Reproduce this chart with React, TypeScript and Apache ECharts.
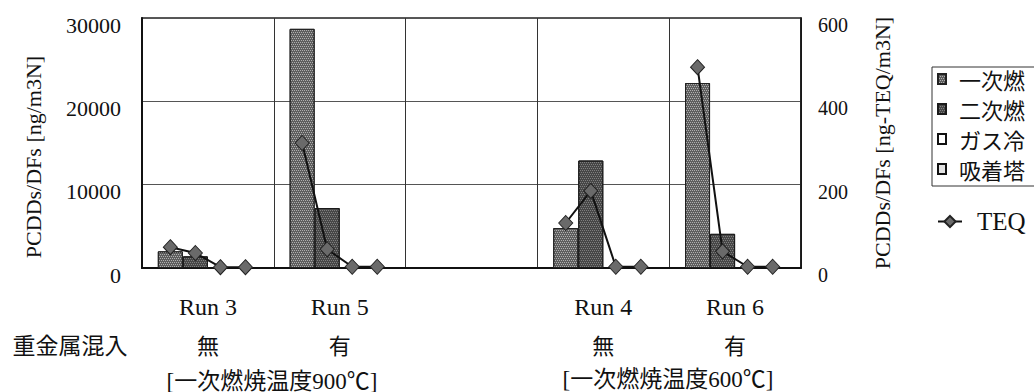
import React, { useEffect, useRef } from "react";
import * as echarts from "echarts";

// Runs on the category axis (the blank slot separates the 900℃ and 600℃ groups)
const runs = ["Run 3", "Run 5", "", "Run 4", "Run 6"];
const metalMixing = ["無", "有", "", "無", "有"];

// PCDDs/DFs concentration [ng/m3N] at each sampling point
const primaryOutlet = [2000, 28700, null, 4800, 22200]; // 一次燃
const secondaryOutlet = [1400, 7200, null, 12900, 4100]; // 二次燃
const gasCooler = [30, 20, null, 20, 20]; // ガス冷
const adsorber = [15, 10, null, 10, 10]; // 吸着塔

// TEQ [ng-TEQ/m3N] at the same four points of each run
const teqRun3 = [50, 36, 2, 2];
const teqRun5 = [300, 45, 3, 3];
const teqRun4 = [108, 185, 3, 3];
const teqRun6 = [482, 40, 3, 3];
const teqByRun: (number[] | null)[] = [teqRun3, teqRun5, null, teqRun4, teqRun6];

const leftTicks = { min: 0, max: 30000, interval: 10000 };
const rightTicks = { min: 0, max: 600, interval: 200 };

const SERIF = "'Liberation Serif', 'Times New Roman', serif";
const JP = "'Noto Sans CJK JP', sans-serif";
const MIX = "'Liberation Serif', 'Noto Sans CJK JP', serif";

// each bar takes this share of a category; the TEQ markers sit on the bar centres
const BAR_SHARE = 0.19;

const stipple = (color: string) => ({
  symbol: "rect",
  symbolSize: 1,
  color,
  dashArrayX: [[1, 1], [0, 1, 1, 0]],
  dashArrayY: [1, 1],
  rotation: 0,
});

export default function App() {
  const ref = useRef<HTMLDivElement>(null);

  useEffect(() => {
    if (!ref.current) return;
    const chart = echarts.init(ref.current, undefined, { renderer: "svg" });

    const barBase = {
      type: "bar",
      xAxisIndex: 0,
      yAxisIndex: 0,
      barWidth: `${BAR_SHARE * 100}%`,
      barGap: "0%",
      z: 2,
    };

    const teqSeries = teqByRun
      .map((vals, i) =>
        vals
          ? {
              type: "line",
              name: "TEQ",
              xAxisIndex: 1,
              yAxisIndex: 1,
              data: vals.map((v, j) => [i + 0.5 + (j - 1.5) * BAR_SHARE, v]),
              symbol: "diamond",
              symbolSize: [14, 15],
              lineStyle: { color: "#111", width: 2 },
              itemStyle: { color: "#6a6a6a", borderColor: "#222", borderWidth: 1 },
              z: 5,
            }
          : null
      )
      .filter(Boolean);

    const tickLabel = (size: number, margin: number) => ({
      fontFamily: SERIF,
      fontSize: size,
      color: "#111",
      margin,
      verticalAlign: "top",
      lineHeight: 14,
      formatter: (v: number) => String(v),
    });

    chart.setOption({
      animation: false,
      backgroundColor: "#fff",
      grid: {
        left: 142,
        right: 233,
        top: 18,
        bottom: 124,
        show: true,
        borderColor: "#222",
        borderWidth: 1.5,
      },
      legend: [
        {
          data: ["一次燃", "二次燃", "ガス冷", "吸着塔"],
          orient: "vertical",
          left: 932,
          top: 67,
          icon: "rect",
          itemWidth: 8,
          itemHeight: 10,
          itemGap: 8,
          padding: [1, 60, 6, 5],
          borderColor: "#333",
          borderWidth: 1,
          selectedMode: false,
          textStyle: {
            fontFamily: JP,
            fontSize: 22,
            lineHeight: 22,
            color: "#111",
            padding: [0, 0, 0, 8],
          },
        },
        {
          data: ["TEQ"],
          left: 932,
          top: 204,
          itemWidth: 24,
          itemHeight: 14,
          selectedMode: false,
          textStyle: { fontFamily: SERIF, fontSize: 25, color: "#111", padding: [0, 0, 0, 10] },
        },
      ],
      xAxis: [
        {
          type: "category",
          data: runs,
          boundaryGap: true,
          axisTick: { show: false },
          axisLine: { lineStyle: { color: "#111", width: 2 } },
          splitLine: { show: true, interval: 0, lineStyle: { color: "#333", width: 1 } },
          axisLabel: {
            interval: 0,
            margin: 20,
            color: "#111",
            formatter: (value: string, idx: number) =>
              value ? `{run|${value}}\n{jp|${metalMixing[idx]}}` : "",
            rich: {
              run: { fontFamily: SERIF, fontSize: 24, lineHeight: 37, color: "#111" },
              jp: { fontFamily: JP, fontSize: 22, lineHeight: 37, color: "#111" },
            },
          },
        },
        { type: "value", min: 0, max: runs.length, show: false },
      ],
      yAxis: [
        {
          type: "value",
          position: "left",
          ...leftTicks,
          axisLine: { show: true, lineStyle: { color: "#111", width: 2 } },
          axisTick: { show: false },
          splitLine: { show: true, lineStyle: { color: "#555", width: 1 } },
          axisLabel: tickLabel(22, 21),
          name: "PCDDs/DFs [ng/m3N]",
          nameLocation: "middle",
          nameRotate: 90,
          nameGap: 98,
          nameTextStyle: { fontFamily: SERIF, fontSize: 22, color: "#111", padding: [0, 28, 0, 0] },
        },
        {
          type: "value",
          position: "right",
          ...rightTicks,
          axisLine: { show: true, lineStyle: { color: "#111", width: 1.5 } },
          axisTick: { show: false },
          splitLine: { show: false },
          axisLabel: tickLabel(20, 17),
          name: "PCDDs/DFs [ng-TEQ/m3N]",
          nameLocation: "middle",
          nameRotate: 90,
          nameGap: 70,
          nameTextStyle: { fontFamily: SERIF, fontSize: 22, color: "#111" },
        },
      ],
      series: [
        {
          ...barBase,
          name: "一次燃",
          data: primaryOutlet,
          itemStyle: {
            color: "#5e5e5e",
            borderColor: "#222",
            borderWidth: 1,
            decal: stipple("rgba(255,255,255,0.5)"),
          },
        },
        {
          ...barBase,
          name: "二次燃",
          data: secondaryOutlet,
          itemStyle: {
            color: "#474747",
            borderColor: "#1a1a1a",
            borderWidth: 1,
            decal: stipple("rgba(255,255,255,0.3)"),
          },
        },
        {
          ...barBase,
          name: "ガス冷",
          data: gasCooler,
          itemStyle: { color: "#fff", borderColor: "#111", borderWidth: 1.5 },
        },
        {
          ...barBase,
          name: "吸着塔",
          data: adsorber,
          itemStyle: { color: "#e2e2e2", borderColor: "#111", borderWidth: 1.5 },
        },
        ...teqSeries,
      ],
      graphic: [
        {
          type: "text",
          x: 70,
          y: 344,
          style: {
            text: "重金属混入",
            font: `23px ${JP}`,
            fill: "#111",
            textAlign: "center",
            textVerticalAlign: "middle",
          },
        },
        {
          type: "text",
          x: 272,
          y: 381,
          style: {
            text: "[一次燃焼温度900℃]",
            font: `23px ${MIX}`,
            fill: "#111",
            textAlign: "center",
            textVerticalAlign: "middle",
          },
        },
        {
          type: "text",
          x: 668,
          y: 379,
          style: {
            text: "[一次燃焼温度600℃]",
            font: `23px ${MIX}`,
            fill: "#111",
            textAlign: "center",
            textVerticalAlign: "middle",
          },
        },
      ],
    });

    return () => chart.dispose();
  }, []);

  return (
    <div
      ref={ref}
      style={{ position: "fixed", left: 0, top: 0, width: 1034, height: 392, background: "#fff" }}
    />
  );
}
